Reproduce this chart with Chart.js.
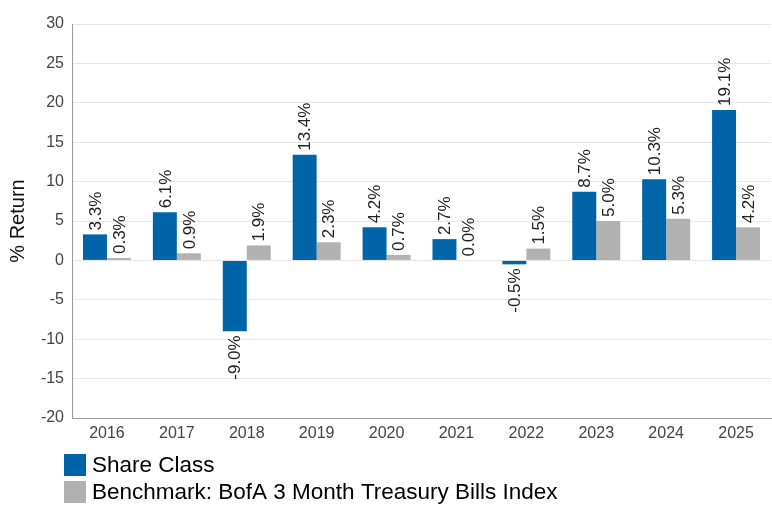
<!DOCTYPE html>
<html>
<head>
<meta charset="utf-8">
<script src="https://cdn.jsdelivr.net/npm/chart.js@4.4.1/dist/chart.umd.min.js"></script>
<style>
  html, body { margin: 0; padding: 0; background: #fff; }
  #wrap { width: 772px; height: 505px; }
</style>
</head>
<body>
<div id="wrap"><canvas id="returns-chart" width="772" height="505"></canvas></div>
<script>
const years = ['2016', '2017', '2018', '2019', '2020', '2021', '2022', '2023', '2024', '2025']
const shareClass = [3.3, 6.1, -9.0, 13.4, 4.2, 2.7, -0.5, 8.7, 10.3, 19.1]
const benchmark = [0.3, 0.9, 1.9, 2.3, 0.7, 0.0, 1.5, 5.0, 5.3, 4.2]
const seriesNames = ['Share Class', 'Benchmark: BofA 3 Month Treasury Bills Index']
const seriesColors = ['#0064a9', '#b1b1b1']

const FONT = '"Liberation Sans", Arial, sans-serif'

// rotated value labels above / below each bar
const barLabels = {
  id: 'barLabels',
  afterDatasetsDraw(chart) {
    const ctx = chart.ctx
    ctx.save()
    ctx.font = '17px ' + FONT
    ctx.fillStyle = '#222'
    ctx.textBaseline = 'middle'
    chart.data.datasets.forEach((ds, i) => {
      chart.getDatasetMeta(i).data.forEach((bar, j) => {
        const v = ds.data[j]
        ctx.save()
        ctx.translate(bar.x + 1, bar.y)
        ctx.rotate(-Math.PI / 2)
        if (v < 0) {
          ctx.textAlign = 'right'
          ctx.fillText(v.toFixed(1) + '%', -4, 0)
        } else {
          ctx.textAlign = 'left'
          ctx.fillText(v.toFixed(1) + '%', 4, 0)
        }
        ctx.restore()
      })
    })
    ctx.restore()
  }
}

// stacked legend at bottom left
const stackedLegend = {
  id: 'stackedLegend',
  afterDraw(chart) {
    const ctx = chart.ctx
    ctx.save()
    ctx.font = '22.5px ' + FONT
    ctx.textBaseline = 'middle'
    chart.data.datasets.forEach((ds, i) => {
      const top = 454 + i * 27
      ctx.fillStyle = ds.backgroundColor
      ctx.fillRect(64, top, 22, 22)
      ctx.fillStyle = '#000'
      ctx.fillText(ds.label, 92, top + 12)
    })
    ctx.restore()
  }
}

const data = {
  labels: years,
  datasets: [
    { label: seriesNames[0], data: shareClass, backgroundColor: seriesColors[0] },
    { label: seriesNames[1], data: benchmark, backgroundColor: seriesColors[1] }
  ]
}

const config = {
  type: 'bar',
  data,
  options: {
    responsive: false,
    animation: false,
    events: [],
    datasets: {
      bar: { categoryPercentage: 0.686, barPercentage: 1.0, borderWidth: 0 }
    },
    layout: { padding: { top: 24, left: 0, right: 1, bottom: 57 } },
    plugins: {
      legend: { display: false },
      tooltip: { enabled: false }
    },
    scales: {
      x: {
        grid: { display: false, drawTicks: false },
        border: { color: '#999' },
        ticks: { color: '#444', font: { family: FONT, size: 16 }, padding: 6 },
        afterFit(scale) { scale.height = 30 }
      },
      y: {
        min: -20,
        max: 30,
        ticks: { stepSize: 5, color: '#444', font: { family: FONT, size: 16 }, padding: 8 },
        grid: { color: '#e6e6e6', drawTicks: false },
        border: { color: '#999' },
        title: { display: true, text: '% Return', color: '#111', font: { family: FONT, size: 20 }, padding: { top: 6, bottom: 0 } },
        afterFit(scale) { scale.width = 72 }
      }
    }
  },
  plugins: [barLabels, stackedLegend]
}

document.addEventListener('DOMContentLoaded', () => {
  const ctx = document.getElementById('returns-chart').getContext('2d')
  new Chart(ctx, config)
})
</script>
</body>
</html>
